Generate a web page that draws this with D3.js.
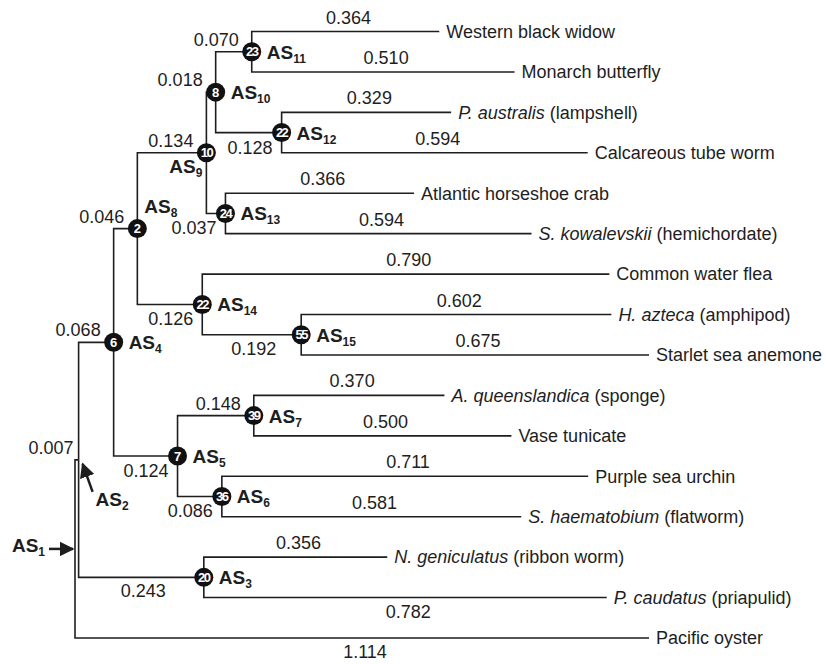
<!DOCTYPE html>
<html>
<head>
<meta charset="utf-8">
<script src="https://cdn.jsdelivr.net/npm/d3@7"></script>
<style>
body { margin: 0; background: #fff; }
svg text { font-family: "Liberation Sans", Arial, sans-serif; fill: #1e1e1e; }
</style>
</head>
<body>
<div id="chart"></div>
<script>
// tree, listed top to bottom (children in drawing order)
const nodeIds = ["AS1", "AS2", "AS4", "AS8", "AS9", "AS10", "AS11",
    "Western black widow", "Monarch butterfly",
    "AS12", "P. australis (lampshell)", "Calcareous tube worm",
    "AS13", "Atlantic horseshoe crab", "S. kowalevskii (hemichordate)",
    "AS14", "Common water flea", "AS15", "H. azteca (amphipod)", "Starlet sea anemone",
    "AS5", "AS7", "A. queenslandica (sponge)", "Vase tunicate",
    "AS6", "Purple sea urchin", "S. haematobium (flatworm)",
    "AS3", "N. geniculatus (ribbon worm)", "P. caudatus (priapulid)",
    "Pacific oyster"];
const parentIds = ["", "AS1", "AS2", "AS4", "AS8", "AS9", "AS10",
    "AS11", "AS11",
    "AS10", "AS12", "AS12",
    "AS9", "AS13", "AS13",
    "AS8", "AS14", "AS14", "AS15", "AS15",
    "AS4", "AS5", "AS7", "AS7",
    "AS5", "AS6", "AS6",
    "AS2", "AS3", "AS3",
    "AS1"];
const branchLengths = [0, 0.007, 0.068, 0.046, 0.134, 0.018, 0.070,
    0.364, 0.510,
    0.128, 0.329, 0.594,
    0.037, 0.366, 0.594,
    0.126, 0.790, 0.192, 0.602, 0.675,
    0.124, 0.148, 0.370, 0.500,
    0.086, 0.711, 0.581,
    0.243, 0.356, 0.782,
    1.114];
// numbers in the black circles (null = no circle)
const nodeCounts = [null, null, 6, 2, 10, 8, 23,
    null, null,
    22, null, null,
    24, null, null,
    22, null, 55, null, null,
    7, 39, null, null,
    36, null, null,
    20, null, null,
    null];
const italicNames = ["P. australis", "S. kowalevskii", "H. azteca", "A. queenslandica",
    "S. haematobium", "N. geniculatus", "P. caudatus"];

const width = 826, height = 664;
const fmt = d3.format(".3f");

const rows = nodeIds.map((id, i) => ({
    id: id, parent: parentIds[i], len: branchLengths[i], count: nodeCounts[i]
}));
const root = d3.stratify().id(d => d.id).parentId(d => d.parent || null)(rows);

// cumulative branch length from the root
root.eachBefore(d => { d.dist = d.parent ? d.parent.dist + d.data.len : 0; });
const leaves = root.leaves();

const x = d3.scaleLinear().domain([0, d3.max(leaves, d => d.dist)]).range([75, 649]);
const y = d3.scaleLinear().domain([0, leaves.length - 1]).range([31.5, 638]);

leaves.forEach((d, i) => { d.py = y(i); });
root.eachAfter(d => {
    d.px = x(d.dist);
    if (d.children) d.py = d3.mean(d.children, c => c.py);
});

const svg = d3.select("#chart").append("svg")
    .attr("width", width)
    .attr("height", height);

svg.append("defs").append("marker")
    .attr("id", "arrow")
    .attr("viewBox", "0 0 10 10")
    .attr("refX", 9).attr("refY", 5)
    .attr("markerWidth", 6).attr("markerHeight", 6)
    .attr("orient", "auto")
    .append("path")
    .attr("d", "M0,0 L10,5 L0,10 z")
    .attr("fill", "#1e1e1e");

// branches
svg.append("g")
    .selectAll("path")
    .data(root.descendants().filter(d => d.parent))
    .join("path")
    .attr("d", d => "M" + d.parent.px + "," + d.parent.py + "V" + d.py + "H" + d.px)
    .attr("fill", "none")
    .attr("stroke", "#1e1e1e")
    .attr("stroke-width", 1.6);

// branch length labels
const belowLeaves = ["P. caudatus (priapulid)", "Pacific oyster"];
svg.append("g")
    .selectAll("text")
    .data(root.descendants().filter(d => d.parent))
    .join("text")
    .style("font-size", "18px")
    .text(d => fmt(d.data.len))
    .each(function (d) {
        const t = d3.select(this);
        const span = d.px - d.parent.px;
        if (!d.children) {
            const below = belowLeaves.includes(d.id);
            t.attr("text-anchor", "middle")
                .attr("x", (d.px + d.parent.px) / 2 + 3)
                .attr("y", below ? d.py + 20 : d.py - 8);
        } else {
            const first = d.parent.children[0] === d;
            if (span > 90) {
                t.attr("text-anchor", "middle")
                    .attr("x", (d.px + d.parent.px) / 2 + 2)
                    .attr("y", first ? d.py - 7 : d.py + 20);
            } else {
                const off = d.data.count == null ? 5 : (first ? 13 : 9);
                t.attr("text-anchor", "end")
                    .attr("x", d.px - off)
                    .attr("y", first ? d.py - 6 : d.py + 21);
            }
        }
    });

// leaf names
const leafText = svg.append("g")
    .selectAll("text")
    .data(leaves)
    .join("text")
    .attr("x", d => d.px + 7)
    .attr("y", d => d.py)
    .attr("dy", "0.35em")
    .style("font-size", "18px");
leafText.each(function (d) {
    const t = d3.select(this);
    const it = italicNames.find(n => d.id.startsWith(n));
    if (it) {
        t.append("tspan").style("font-style", "italic").text(it);
        t.append("tspan").text(d.id.slice(it.length));
    } else {
        t.text(d.id);
    }
});

// circles with counts
const counted = root.descendants().filter(d => d.data.count != null);
svg.append("g")
    .selectAll("circle")
    .data(counted)
    .join("circle")
    .attr("cx", d => d.px)
    .attr("cy", d => d.py)
    .attr("r", 9.5)
    .attr("fill", "#111");
svg.append("g")
    .selectAll("text")
    .data(counted)
    .join("text")
    .attr("x", d => d.px)
    .attr("y", d => d.py)
    .attr("dy", "0.36em")
    .attr("text-anchor", "middle")
    .style("font-size", "13px")
    .style("font-weight", "bold")
    .style("letter-spacing", d => d.data.count >= 10 ? "-1.5px" : "0px")
    .style("fill", "#fff")
    .text(d => d.data.count);

// AS labels
function asLabel(d) {
    if (d.id === "AS8") return { dx: 7, dy: -16, anchor: "start" };
    if (d.id === "AS9") return { dx: -4, dy: 20, anchor: "end" };
    if (d.id === "AS2") return { dx: 17, dy: 46, anchor: "start" };
    if (d.id === "AS1") return { dx: -30, dy: 3, anchor: "end" };
    return { dx: 15, dy: 7, anchor: "start" };
}
const internal = root.descendants().filter(d => d.children);
const asText = svg.append("g")
    .selectAll("text")
    .data(internal)
    .join("text")
    .attr("x", d => d.px + asLabel(d).dx)
    .attr("y", d => d.py + asLabel(d).dy)
    .attr("text-anchor", d => asLabel(d).anchor)
    .style("font-weight", "bold")
    .style("font-size", "19px");
asText.append("tspan").text("AS");
asText.append("tspan")
    .attr("dy", 4)
    .style("font-size", "12px")
    .text(d => d.id.slice(2));

// arrows pointing at AS1 and AS2
const as1 = root, as2 = root.children[0];
svg.append("line")
    .attr("x1", as1.px - 26).attr("y1", as1.py)
    .attr("x2", as1.px - 2).attr("y2", as1.py)
    .attr("stroke", "#1e1e1e").attr("stroke-width", 2.5)
    .attr("marker-end", "url(#arrow)");
svg.append("line")
    .attr("x1", as2.px + 14).attr("y1", as2.py + 32)
    .attr("x2", as2.px + 4).attr("y2", as2.py + 4)
    .attr("stroke", "#1e1e1e").attr("stroke-width", 2.5)
    .attr("marker-end", "url(#arrow)");
</script>
</body>
</html>
